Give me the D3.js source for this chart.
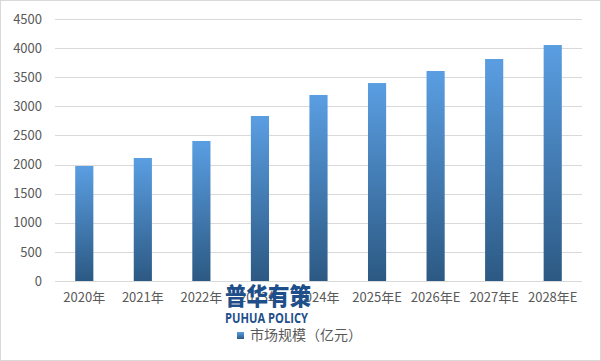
<!DOCTYPE html>
<html><head><meta charset="utf-8">
<script src="https://cdn.jsdelivr.net/npm/d3@7"></script>
<style>body{margin:0;background:#fff}svg{display:block}</style>
</head><body>
<script>
const categories = ["2020年","2021年","2022年","2023年","2024年","2025年E","2026年E","2027年E","2028年E"];
const values = [1975, 2113, 2405, 2834, 3195, 3400, 3607, 3813, 4053];
const yTicks = [0,500,1000,1500,2000,2500,3000,3500,4000,4500];
const seriesName = "市场规模（亿元）";

const W = 601, H = 361;
const svg = d3.select("body").append("svg").attr("width", W).attr("height", H);
const font = "'Noto Sans CJK SC','Microsoft YaHei',sans-serif";

svg.append("rect").attr("x",0.5).attr("y",0.5).attr("width",W-1).attr("height",H-1)
  .attr("fill","#fff").attr("stroke","#d9d9d9");

const defs = svg.append("defs");
const grad = defs.append("linearGradient").attr("id","g").attr("x1",0).attr("y1",0).attr("x2",0).attr("y2",1);
grad.append("stop").attr("offset","0%").attr("stop-color","#5a9ee2");
grad.append("stop").attr("offset","100%").attr("stop-color","#2c5983");

const x = d3.scaleBand().domain(categories).range([55, 582]).paddingInner(0.69).paddingOuter(0.345);
const y = d3.scaleLinear().domain([0,4500]).range([281, 19]);

// gridlines
svg.append("g").selectAll("line").data(yTicks).join("line")
  .attr("x1",55).attr("x2",582).attr("y1",d=>Math.round(y(d))+0.5).attr("y2",d=>Math.round(y(d))+0.5)
  .attr("stroke","#d9d9d9").attr("stroke-width",1);

// y axis labels
const yAxis = d3.axisLeft(y).tickValues(yTicks).tickFormat(d3.format("d")).tickSize(0).tickPadding(0);
const ga = svg.append("g").attr("transform","translate(42,0)").call(yAxis);
ga.select(".domain").remove();
ga.selectAll("text").attr("font-family",font).attr("font-size",13).attr("fill","#595959");

// bars
svg.append("g").selectAll("rect").data(values).join("rect")
  .attr("x",(d,i)=>x(categories[i])).attr("width",x.bandwidth())
  .attr("y",d=>y(d)).attr("height",d=>y(0)-y(d)).attr("fill","url(#g)");

// x axis labels
const xAxis = d3.axisBottom(x).tickSize(0).tickPadding(0);
const gx = svg.append("g").attr("transform","translate(0,293)").call(xAxis);
gx.select(".domain").remove();
gx.selectAll("text").attr("font-family",font).attr("font-size",13).attr("fill","#595959");

// watermark
svg.append("text").attr("x",225).attr("y",305).text("普华有策")
  .attr("font-family",font).attr("font-size",24).attr("font-weight",900).attr("fill","#1f4f8b")
  .attr("textLength",86).attr("lengthAdjust","spacingAndGlyphs");
svg.append("text").attr("x",225).attr("y",323).text("PUHUA POLICY")
  .attr("font-family","'Open Sans',sans-serif").attr("font-size",14).attr("font-weight",700).attr("fill","#1f4f8b")
  .attr("textLength",83).attr("lengthAdjust","spacingAndGlyphs");

// legend
svg.append("rect").attr("x",237).attr("y",332).attr("width",7).attr("height",7).attr("fill","url(#g)");
svg.append("text").attr("x",250).attr("y",340).text(seriesName)
  .attr("font-family",font).attr("font-size",14).attr("fill","#595959");
</script>
</body></html>
